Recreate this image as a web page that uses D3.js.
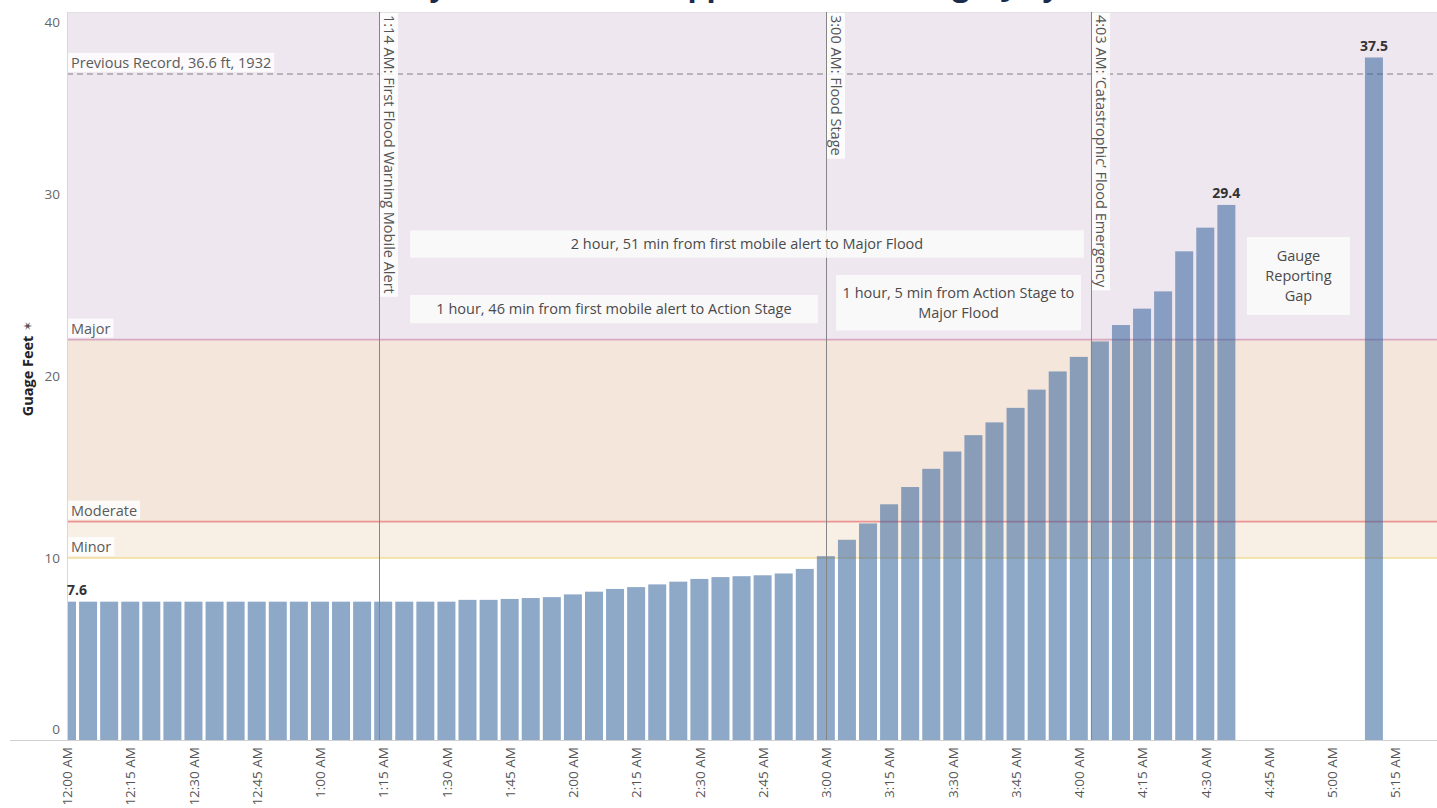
<!DOCTYPE html>
<html><head><meta charset="utf-8">
<script src="https://cdn.jsdelivr.net/npm/d3@7"></script>
<style>
html,body{margin:0;padding:0;background:#fff;overflow:hidden;}
svg{display:block;font-family:"Open Sans",sans-serif;}
</style></head><body>
<svg id="c" width="1437" height="808"></svg>
<script>
// ---- data ----
const chartTitle = "Kerr County River Level at Upper Hunt TX Gauge, July 4, 2025";
const readingMinutes = [0,5,10,15,20,25,30,35,40,45,50,55,60,65,70,75,80,85,90,95,100,105,110,115,120,125,130,135,140,145,150,155,160,165,170,175,180,185,190,195,200,205,210,215,220,225,230,235,240,245,250,255,260,265,270,275,310];
const gaugeFeet = [7.6,7.6,7.6,7.6,7.6,7.6,7.6,7.6,7.6,7.6,7.6,7.6,7.6,7.6,7.6,7.6,7.6,7.6,7.6,
  7.7,7.7,7.75,7.8,7.85,8.0,8.15,8.3,8.4,8.55,8.7,8.85,8.95,9.0,9.05,9.15,9.4,
  10.1,11.0,11.9,12.95,13.9,14.9,15.85,16.75,17.45,18.25,19.25,20.25,21.05,21.9,22.8,23.7,24.65,26.85,28.15,29.4,
  37.5];
const labeledReadings = [0, 55, 56];
const tickMinutes = [0,15,30,45,60,75,90,105,120,135,150,165,180,195,210,225,240,255,270,285,300,315];
const tickLabels = ["12:00 AM","12:15 AM","12:30 AM","12:45 AM","1:00 AM","1:15 AM","1:30 AM","1:45 AM","2:00 AM","2:15 AM","2:30 AM","2:45 AM","3:00 AM","3:15 AM","3:30 AM","3:45 AM","4:00 AM","4:15 AM","4:30 AM","4:45 AM","5:00 AM","5:15 AM"];
const yTicks = [0,10,20,30,40];
const yTitle = "Guage Feet";
const stageNames = ["Minor","Moderate","Major"];
const stageFeet = [10,12,22];
const recordFeet = 36.6;
const recordLabel = "Previous Record, 36.6 ft, 1932";
const eventMinutes = [74,180,243];
const eventLabels = ["1:14 AM: First Flood Warning Mobile Alert","3:00 AM: Flood Stage","4:03 AM: \u2018Catastrophic\u2019 Flood Emergency"];
const noteTexts = [
  ["2 hour, 51 min from first mobile alert to Major Flood"],
  ["1 hour, 46 min from first mobile alert to Action Stage"],
  ["1 hour, 5 min from Action Stage to","Major Flood"],
  ["Gauge","Reporting","Gap"]
];
// note extents in data units [minStart, minEnd, feetTop, feetBottom]
const noteExtents = [[81.4,241.2,28.0,26.5],[81.4,178.1,24.45,22.9],[182.4,240.5,25.55,22.5],[279.9,304.3,27.64,23.35]];

// ---- layout ----
const W=1437,H=808;
const L=67, T=12, B=740, R=1437;
const FS = 14.5;
const x = d3.scaleLinear().domain([0,315]).range([L,1395]);
const y = d3.scaleLinear().domain([0,40]).range([B,T]);
const svg = d3.select("#c");
svg.append("rect").attr("width",W).attr("height",H).attr("fill","#fff");

// title (cut off at the top edge, as in the reference)
svg.append("text").attr("x",718).attr("y",-4).attr("text-anchor","middle")
  .attr("font-size",30).attr("font-weight",700).attr("fill","#1c2b4a").text(chartTitle);

svg.append("defs").append("clipPath").attr("id","plotclip")
  .append("rect").attr("x",L).attr("y",T).attr("width",R-L).attr("height",B-T);
const plot = svg.append("g").attr("clip-path","url(#plotclip)");

// stage bands
const bands = [[40,22,"#efe7ef"],[22,12,"#f4e6db"],[12,10,"#f8f0e4"]];
plot.selectAll("rect.band").data(bands).join("rect").attr("class","band")
  .attr("x",L).attr("width",R-L).attr("y",d=>y(d[0])).attr("height",d=>y(d[1])-y(d[0]))
  .attr("fill",d=>d[2]);

// stage lines
const stageColors = ["#f2dc9a","#ec9494","#d8a8c2"];
stageFeet.forEach((v,i)=>{
  plot.append("line").attr("x1",L).attr("x2",R).attr("y1",y(v)).attr("y2",y(v))
    .attr("stroke",stageColors[i]).attr("stroke-width",1.6);
});
// record line
plot.append("line").attr("x1",L).attr("x2",R).attr("y1",y(recordFeet)).attr("y2",y(recordFeet))
  .attr("stroke","#a8a4a8").attr("stroke-width",1.5).attr("stroke-dasharray","6,4");

// bars (translucent so the bands tint them)
const barW = 18;
plot.selectAll("rect.bar").data(gaugeFeet).join("rect").attr("class","bar")
  .attr("x",(d,i)=>x(readingMinutes[i])-barW/2).attr("width",barW)
  .attr("y",d=>y(d)).attr("height",d=>y(0)-y(d))
  .attr("fill","#32619b").attr("fill-opacity",0.55);

// top border & axes lines
svg.append("line").attr("x1",L).attr("x2",R).attr("y1",T+0.5).attr("y2",T+0.5).attr("stroke","#e2e2e2");
svg.append("line").attr("x1",L+0.5).attr("x2",L+0.5).attr("y1",T).attr("y2",B).attr("stroke","#d8d8d8");
svg.append("line").attr("x1",10).attr("x2",R).attr("y1",B+0.5).attr("y2",B+0.5).attr("stroke","#d0d0d0");

// event lines
eventMinutes.forEach(m=>{
  svg.append("line").attr("x1",Math.round(x(m))+0.5).attr("x2",Math.round(x(m))+0.5).attr("y1",T).attr("y2",B)
    .attr("stroke","#858585").attr("stroke-width",1);
});

function boxedText(g, str, tx, ty, opts={}){
  const t = g.append("text").attr("x",tx).attr("y",ty).attr("font-size",opts.size||FS)
    .attr("fill",opts.fill||"#5a5a5a").attr("text-anchor",opts.anchor||"start").text(str);
  const bb = t.node().getBBox();
  g.insert("rect","text").attr("x",bb.x-3).attr("y",bb.y).attr("width",bb.width+6).attr("height",bb.height)
    .attr("fill","#fff").attr("opacity",0.8);
  return t;
}

// stage labels
stageFeet.forEach((v,i)=>{
  const g = svg.append("g");
  boxedText(g, stageNames[i], L+4, y(v)-6);
});
{ const g = svg.append("g"); boxedText(g, recordLabel, L+4, y(recordFeet)-6); }

// event labels (vertical)
eventMinutes.forEach((m,i)=>{
  const cx = Math.round(x(m))+10;
  const g = svg.append("g").attr("transform",`translate(${cx},15) rotate(90)`);
  const t = g.append("text").attr("x",0).attr("y",0).attr("dy","0.35em").attr("font-size",FS)
    .attr("fill","#555").text(eventLabels[i]);
  const len = t.node().getComputedTextLength();
  g.insert("rect","text").attr("x",-2).attr("y",-9).attr("width",len+5).attr("height",18)
    .attr("fill","#fff").attr("opacity",0.85);
});

// notes
noteTexts.forEach((lines,i)=>{
  const e = noteExtents[i];
  const x0=x(e[0]), x1=x(e[1]), y0=y(e[2]), y1=y(e[3]);
  svg.append("rect").attr("x",x0).attr("y",y0).attr("width",x1-x0).attr("height",y1-y0)
    .attr("fill","#fbfbfb").attr("opacity",0.85);
  const cy=(y0+y1)/2, lh=20;
  lines.forEach((s,j)=>{
    svg.append("text").attr("x",(x0+x1)/2).attr("y",cy+(j-(lines.length-1)/2)*lh).attr("dy","0.35em")
      .attr("text-anchor","middle").attr("font-size",FS).attr("fill","#4a4a4a").text(s);
  });
});

// bar value labels
labeledReadings.forEach(i=>{
  const cx = x(readingMinutes[i]);
  const first = cx - 12 < L;
  svg.append("text").attr("x", first ? L : cx).attr("y",y(gaugeFeet[i])-7)
    .attr("text-anchor", first ? "start":"middle").attr("font-size",14).attr("font-weight",700)
    .attr("fill","#333").text(gaugeFeet[i].toFixed(1));
});

// y axis
const ya = svg.append("g").attr("transform",`translate(${L-7},0)`)
  .call(d3.axisLeft(y).tickValues(yTicks).tickSize(0).tickPadding(0));
ya.select(".domain").remove();
ya.selectAll("text").attr("font-size",13.5).attr("fill","#666").attr("font-family","Open Sans, sans-serif")
  .attr("dy",d=> d===0 ? "-0.45em" : d===40 ? "1.1em" : "0.32em");
// y title
svg.append("text").attr("transform",`translate(28,376) rotate(-90)`).attr("text-anchor","middle").attr("dy","0.35em")
  .attr("font-size",14.5).attr("font-weight",700).attr("fill","#222").text(yTitle);
svg.append("text").attr("transform",`translate(28,326) rotate(-90)`).attr("text-anchor","middle").attr("dy","0.35em")
  .attr("font-size",12).attr("fill","#555").text("\u2736");

// x axis
const xa = svg.append("g").attr("transform",`translate(0,${B})`)
  .call(d3.axisBottom(x).tickValues(tickMinutes).tickFormat((d,i)=>tickLabels[i]).tickSize(0));
xa.select(".domain").remove();
xa.selectAll("text").attr("font-size",13.5).attr("fill","#555").attr("font-family","Open Sans, sans-serif")
  .attr("text-anchor","end").attr("transform","translate(0,7) rotate(-90)")
  .attr("x",0).attr("y",0).attr("dy","0.35em");
</script>
</body></html>
